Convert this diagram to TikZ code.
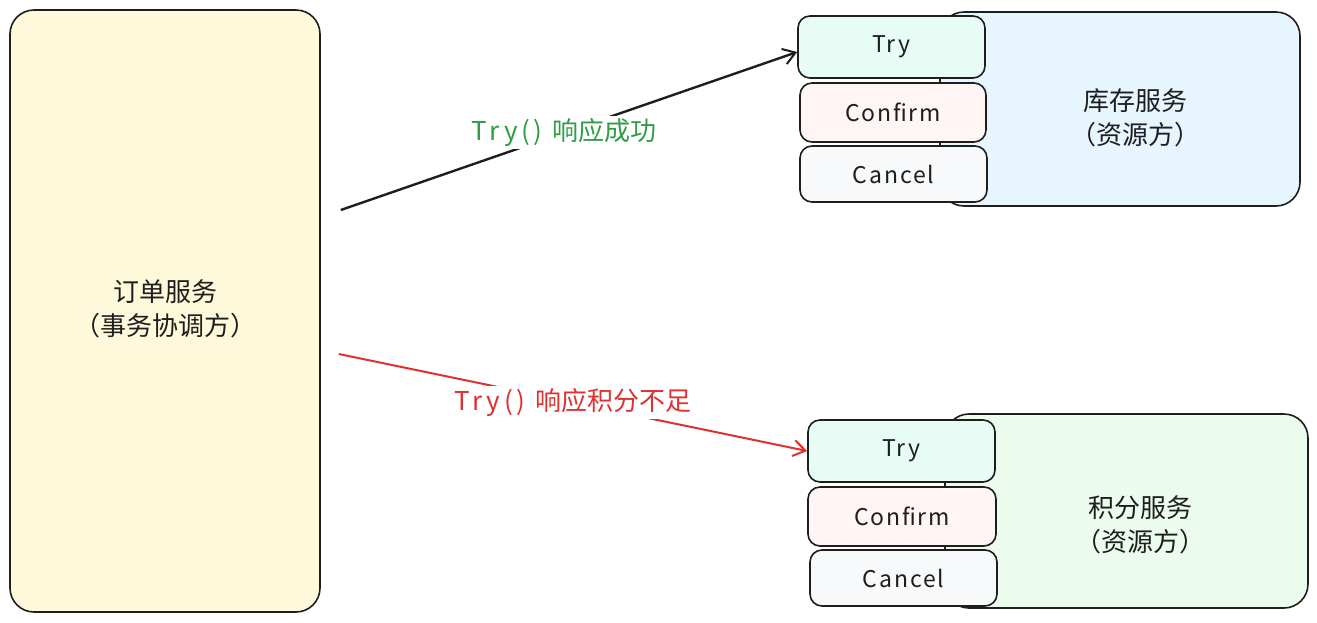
\documentclass[tikz,border=0pt]{standalone}
\usepackage{fontspec}
\setmainfont{Noto Sans CJK SC}
\newfontfamily\latwide[LetterSpace=8]{Noto Sans CJK SC}
\newfontfamily\latwider[LetterSpace=14]{Noto Sans CJK SC}
\usetikzlibrary{arrows.meta,calc}
\definecolor{ink}{HTML}{1E1E1E}
\definecolor{yel}{HTML}{FFF9DB}
\definecolor{blu}{HTML}{E7F5FF}
\definecolor{grn}{HTML}{EBFBEE}
\definecolor{mint}{HTML}{E6FCF5}
\definecolor{pink}{HTML}{FFF5F5}
\definecolor{gray}{HTML}{F8F9FA}
\definecolor{gtxt}{HTML}{2F9E44}
\definecolor{rtxt}{HTML}{E03131}
\tikzset{
  bigbox/.style={draw=ink, line width=1.6pt, rounded corners=24pt, inner sep=0pt},
  smallbox/.style={draw=ink, line width=1.6pt, rounded corners=12pt, inner sep=0pt,
    font=\latwide\fontsize{23}{26}\selectfont, text=ink},
  svctext/.style={align=center, font=\fontsize{26}{34}\selectfont, text=ink},
  arr/.style={line width=2.4pt, -{Straight Barb[length=12pt,width=16pt,line width=2pt]}},
  lbl/.style={fill=white, inner xsep=0pt, inner ysep=0pt, minimum height=33pt,
    font=\fontsize{26}{28}\selectfont},
}
\begin{document}
\begin{tikzpicture}[x=1pt,y=-1pt]
\useasboundingbox (0,0) rectangle (1317,622);
% coordinator
\node[bigbox, fill=yel, minimum width=310pt, minimum height=602pt] (order) at (165,311) {};
\node[svctext] (ordertxt) at (165,309) {订单服务\\（事务协调方）};
% inventory service
\node[bigbox, fill=blu, minimum width=360pt, minimum height=194pt] (inv) at (1120,109) {};
\node[svctext] (invtxt) at (1135,118) {库存服务\\（资源方）};
\node[smallbox, fill=mint, minimum width=187pt, minimum height=62pt] (try1) at (891.5,47) {Try};
\node[smallbox, fill=pink, minimum width=186pt, minimum height=59pt] (conf1) at (893,112.5) {Confirm};
\node[smallbox, fill=gray, minimum width=187pt, minimum height=56pt] (canc1) at (893.5,174) {Cancel};
% points service
\node[bigbox, fill=grn, minimum width=363pt, minimum height=194pt] (pts) at (1126.5,511) {};
\node[svctext] (ptstxt) at (1140,525) {积分服务\\（资源方）};
\node[smallbox, fill=mint, minimum width=187pt, minimum height=62pt] (try2) at (901.5,451) {Try};
\node[smallbox, fill=pink, minimum width=188pt, minimum height=59pt] (conf2) at (902,516.5) {Confirm};
\node[smallbox, fill=gray, minimum width=187pt, minimum height=56pt] (canc2) at (903.5,578) {Cancel};
% connectors
\coordinate (s1) at ($(order.east)+(20,-101)$);
\coordinate (s2) at ($(order.east)+(18,43)$);
\draw[arr, ink] (s1) -- ($(try1.west)+(0,5)$)
  node[lbl, text=gtxt, pos=0.49] (l1) {{\latwider Try()}\, 响应成功};
\draw[arr, rtxt, line width=2pt] (s2) -- (try2.west)
  node[lbl, text=rtxt, pos=0.5] (l2) {{\latwider Try()}\, 响应积分不足};
\end{tikzpicture}
\end{document}
